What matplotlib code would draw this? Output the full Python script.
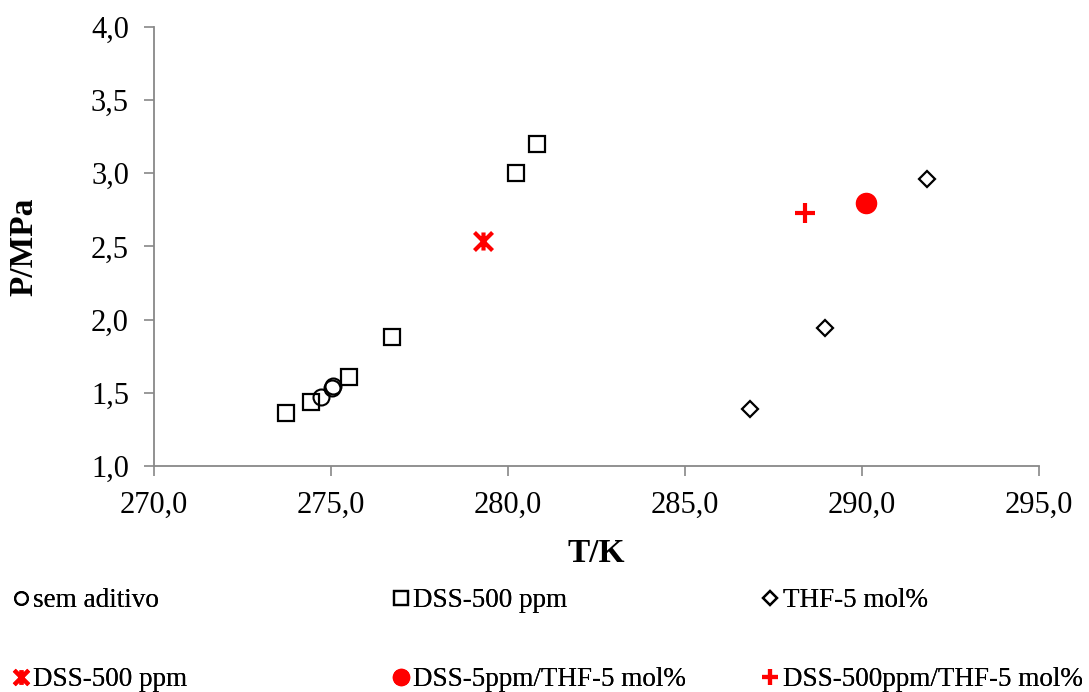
import matplotlib
matplotlib.use("Agg")
import matplotlib.pyplot as plt
from matplotlib.path import Path
from matplotlib.ticker import FuncFormatter

# data (T in K, P in MPa)
t_sem = [274.73, 275.03, 275.06]
p_sem = [1.47, 1.53, 1.55]

t_dss = [273.73, 274.44, 275.51, 276.72, 280.23, 280.82]
p_dss = [1.36, 1.44, 1.61, 1.88, 3.00, 3.20]

t_thf = [286.84, 288.95, 291.84]
p_thf = [1.39, 1.94, 2.96]

t_dss_red = [279.29]
p_dss_red = [2.54]

t_dss5_thf = [290.11]
p_dss5_thf = [2.80]

t_dss500_thf = [288.39]
p_dss500_thf = [2.73]

labels = ["sem aditivo", "DSS-500 ppm", "THF-5 mol%",
          "DSS-500 ppm", "DSS-5ppm/THF-5 mol%", "DSS-500ppm/THF-5 mol%"]

plt.rcParams['font.family'] = ['Liberation Serif', 'DejaVu Serif']

# Excel-like star marker: X with a vertical stroke
star = Path([(-1, -1), (1, 1), (-1, 1), (1, -1), (0, -1), (0, 1)],
            [Path.MOVETO, Path.LINETO, Path.MOVETO, Path.LINETO, Path.MOVETO, Path.LINETO])

fig = plt.figure(figsize=(10.89, 6.92), dpi=100)
ax = fig.add_axes([0.1414, 0.3266, 0.8126, 0.6344])

h1, = ax.plot(t_sem, p_sem, ls='none', marker='o', ms=11.5, mfc='none', mec='black', mew=1.5)
h2, = ax.plot(t_dss, p_dss, ls='none', marker='s', ms=12, mfc='none', mec='black', mew=1.6)
h3, = ax.plot(t_thf, p_thf, ls='none', marker='D', ms=8.5, mfc='none', mec='black', mew=1.6)
h4, = ax.plot(t_dss_red, p_dss_red, ls='none', marker=star, ms=13, mfc='none', mec='red', mew=3)
h5, = ax.plot(t_dss5_thf, p_dss5_thf, ls='none', marker='o', ms=14.5, mfc='red', mec='red')
h6, = ax.plot(t_dss500_thf, p_dss500_thf, ls='none', marker='+', ms=14, mec='red', mew=3)

ax.set_xlim(270, 295)
ax.set_ylim(1.0, 4.0)
ax.set_xticks([270, 275, 280, 285, 290, 295])
ax.set_yticks([1.0, 1.5, 2.0, 2.5, 3.0, 3.5, 4.0])
comma = FuncFormatter(lambda v, pos: f"{v:.1f}".replace('.', ','))
ax.xaxis.set_major_formatter(comma)
ax.yaxis.set_major_formatter(comma)
ax.tick_params(labelsize=22, direction='out', length=7, width=1.2, color='#888888',
               labelcolor='black', pad=11)
ax.spines['top'].set_visible(False)
ax.spines['right'].set_visible(False)
for s in ['left', 'bottom']:
    ax.spines[s].set_color('#888888')
    ax.spines[s].set_linewidth(1.3)

ax.set_xlabel('T/K', fontsize=24, fontweight='bold')
ax.set_ylabel('P/MPa', fontsize=24, fontweight='bold')
ax.xaxis.set_label_coords(0.5, -0.164)
ax.yaxis.set_label_coords(-0.129, 0.5)

# legend laid out like the Excel one: 2 rows, 3 columns
handles = [h1, h2, h3, h4, h5, h6]
xs = [0.012, 0.361, 0.700]
ys = [0.132, 0.018]
for i, (h, lab) in enumerate(zip(handles, labels)):
    leg = fig.legend(handles=[h], labels=[lab], loc='center left',
                     bbox_to_anchor=(xs[i % 3], ys[i // 3]),
                     frameon=False, fontsize=19.5, handlelength=0.6,
                     handletextpad=0.15, borderpad=0, borderaxespad=0,
                     markerscale=0.8)
    fig.add_artist(leg)

fig.savefig('out.png', dpi=100)
